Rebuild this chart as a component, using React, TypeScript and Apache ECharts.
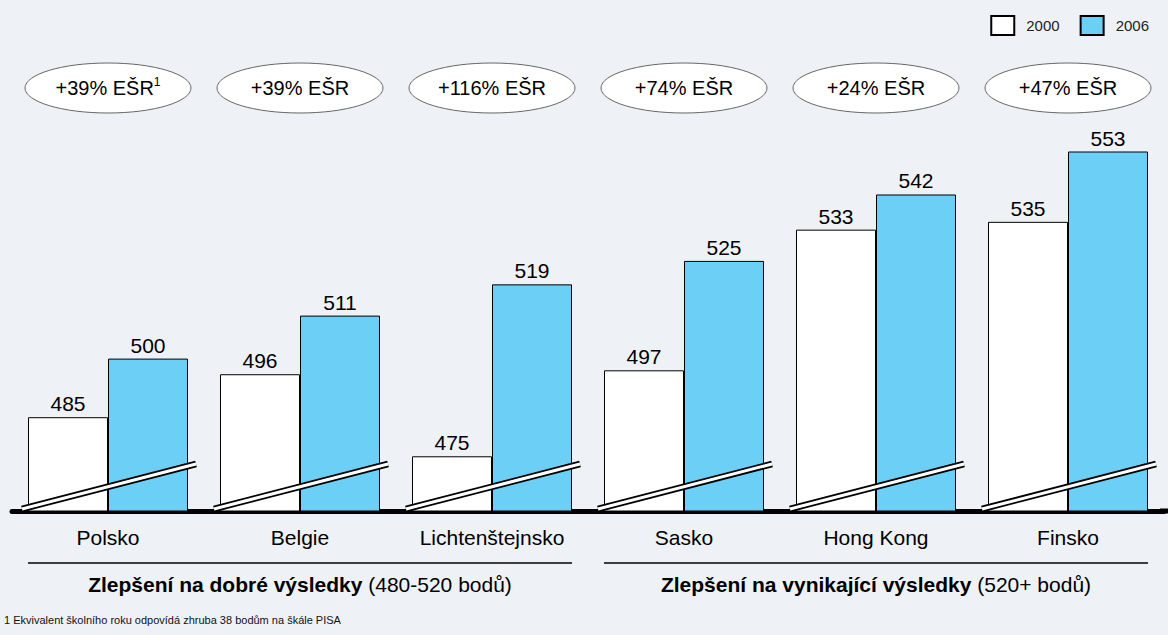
import React, { useEffect, useRef } from "react";
import * as echarts from "echarts";

const categories = ["Polsko", "Belgie", "Lichtenštejnsko", "Sasko", "Hong Kong", "Finsko"];
const values2000 = [485, 496, 475, 497, 533, 535];
const values2006 = [500, 511, 519, 525, 542, 553];
const changeLabels = ["+39% EŠR", "+39% EŠR", "+116% EŠR", "+74% EŠR", "+24% EŠR", "+47% EŠR"];
const changeMarks = ["1", "", "", "", "", ""];
const groupTitles = ["Zlepšení na dobré výsledky", "Zlepšení na vynikající výsledky"];
const groupNotes = ["(480-520 bodů)", "(520+ bodů)"];
const groupFrom = [0, 3];
const groupTo = [2, 5];
const seriesNames = ["2000", "2006"];
const footnote = "1 Ekvivalent školního roku odpovídá zhruba 38 bodům na škále PISA";

const Y_MIN = 461;
const Y_MAX = 580;
const FONT = "Liberation Sans, Arial, sans-serif";
const BLUE = "#6CCFF6";
const BG = "#EEF2F6";

export default function App() {
  const ref = useRef<HTMLDivElement>(null);
  useEffect(() => {
    document.body.style.margin = "0";
    const chart = echarts.init(ref.current!, null, { renderer: "svg" });
    const labelStyle = {
      show: true,
      position: "top",
      distance: 3,
      color: "#000",
      fontSize: 21,
      fontFamily: FONT,
    };
    chart.setOption({
      animation: false,
      backgroundColor: BG,
      textStyle: { fontFamily: FONT },
      legend: {
        data: seriesNames,
        right: 14,
        top: 10,
        itemWidth: 23,
        itemHeight: 19,
        itemGap: 20,
        icon: "rect",
        textStyle: { fontSize: 15, color: "#222", fontFamily: FONT, padding: [0, 0, 0, 7] },
      },
      grid: { left: 12, right: 4, top: 46, bottom: 124 },
      xAxis: {
        type: "category",
        data: categories,
        axisLine: { lineStyle: { color: "#000", width: 5 } },
        axisTick: { show: false },
        axisLabel: { color: "#000", fontSize: 21, fontFamily: FONT, margin: 16 },
      },
      yAxis: { type: "value", min: Y_MIN, max: Y_MAX, show: false, splitLine: { show: false } },
      graphic: [
        {
          type: "rect",
          left: 1160,
          top: 508.5,
          shape: { width: 8, height: 5 },
          style: { fill: "#000" },
        },
        {
          type: "text",
          left: 4,
          top: 614,
          style: { text: footnote, fill: "#111", font: "11px " + FONT },
        },
      ],
      series: [
        {
          name: seriesNames[0],
          type: "bar",
          data: values2000,
          barWidth: 80,
          barGap: "0%",
          itemStyle: { color: "#fff", borderColor: "#000", borderWidth: 1 },
          label: labelStyle,
        },
        {
          name: seriesNames[1],
          type: "bar",
          data: values2006,
          barWidth: 80,
          barGap: "0%",
          itemStyle: { color: BLUE, borderColor: "#000", borderWidth: 1 },
          label: labelStyle,
        },
        {
          type: "custom",
          z: 5,
          silent: true,
          data: categories.map((_, i) => [i, Y_MIN]),
          renderItem: (params: any, api: any) => {
            const p = api.coord([api.value(0), Y_MIN]);
            const c = p[0];
            const y0 = p[1];
            const shape = { x1: c - 86, y1: y0 - 2, x2: c + 88, y2: y0 - 47 };
            return {
              type: "group",
              children: [
                { type: "line", shape, style: { stroke: "#000", lineWidth: 6.5, lineCap: "butt" } },
                { type: "line", shape, style: { stroke: "#fff", lineWidth: 3, lineCap: "butt" } },
              ],
            };
          },
        },
        {
          type: "custom",
          z: 5,
          silent: true,
          data: categories.map((_, i) => [i, Y_MAX]),
          renderItem: (params: any, api: any) => {
            const i = api.value(0);
            const c = api.coord([i, Y_MAX])[0];
            const cy = 88;
            const mark = changeMarks[i];
            const text = mark ? `{a|${changeLabels[i]}}{s|${mark}}` : `{a|${changeLabels[i]}}`;
            return {
              type: "group",
              children: [
                {
                  type: "ellipse",
                  shape: { cx: c, cy, rx: 83, ry: 25 },
                  style: { fill: "#fff", stroke: "#666", lineWidth: 1 },
                },
                {
                  type: "text",
                  x: c,
                  y: cy,
                  style: {
                    text,
                    align: "center",
                    verticalAlign: "middle",
                    fill: "#000",
                    rich: {
                      a: { fontSize: 20, fontFamily: FONT, lineHeight: 24, fill: "#000" },
                      s: { fontSize: 12, fontFamily: FONT, lineHeight: 24, verticalAlign: "top", fill: "#000" },
                    },
                  },
                },
              ],
            };
          },
        },
        {
          type: "custom",
          z: 5,
          silent: true,
          data: groupFrom.map((f, g) => [f, groupTo[g]]),
          renderItem: (params: any, api: any) => {
            const g = params.dataIndex;
            const base = api.coord([api.value(0), Y_MIN]);
            const x1 = base[0] - 80;
            const x2 = api.coord([api.value(1), Y_MIN])[0] + 80;
            const yLine = base[1] + 52;
            return {
              type: "group",
              children: [
                {
                  type: "line",
                  shape: { x1, y1: yLine, x2, y2: yLine },
                  style: { stroke: "#000", lineWidth: 1.5 },
                },
                {
                  type: "text",
                  x: (x1 + x2) / 2,
                  y: yLine + 21,
                  style: {
                    text: `{b|${groupTitles[g]}}{n|\u00a0${groupNotes[g]}}`,
                    align: "center",
                    verticalAlign: "middle",
                    rich: {
                      b: { fontSize: 21, fontWeight: "bold", fontFamily: FONT, fill: "#000" },
                      n: { fontSize: 21, fontFamily: FONT, fill: "#000" },
                    },
                  },
                },
              ],
            };
          },
        },
      ],
    });
    return () => chart.dispose();
  }, []);
  return (
    <div
      ref={ref}
      style={{ position: "absolute", left: 0, top: 0, width: 1168, height: 635 }}
    />
  );
}
